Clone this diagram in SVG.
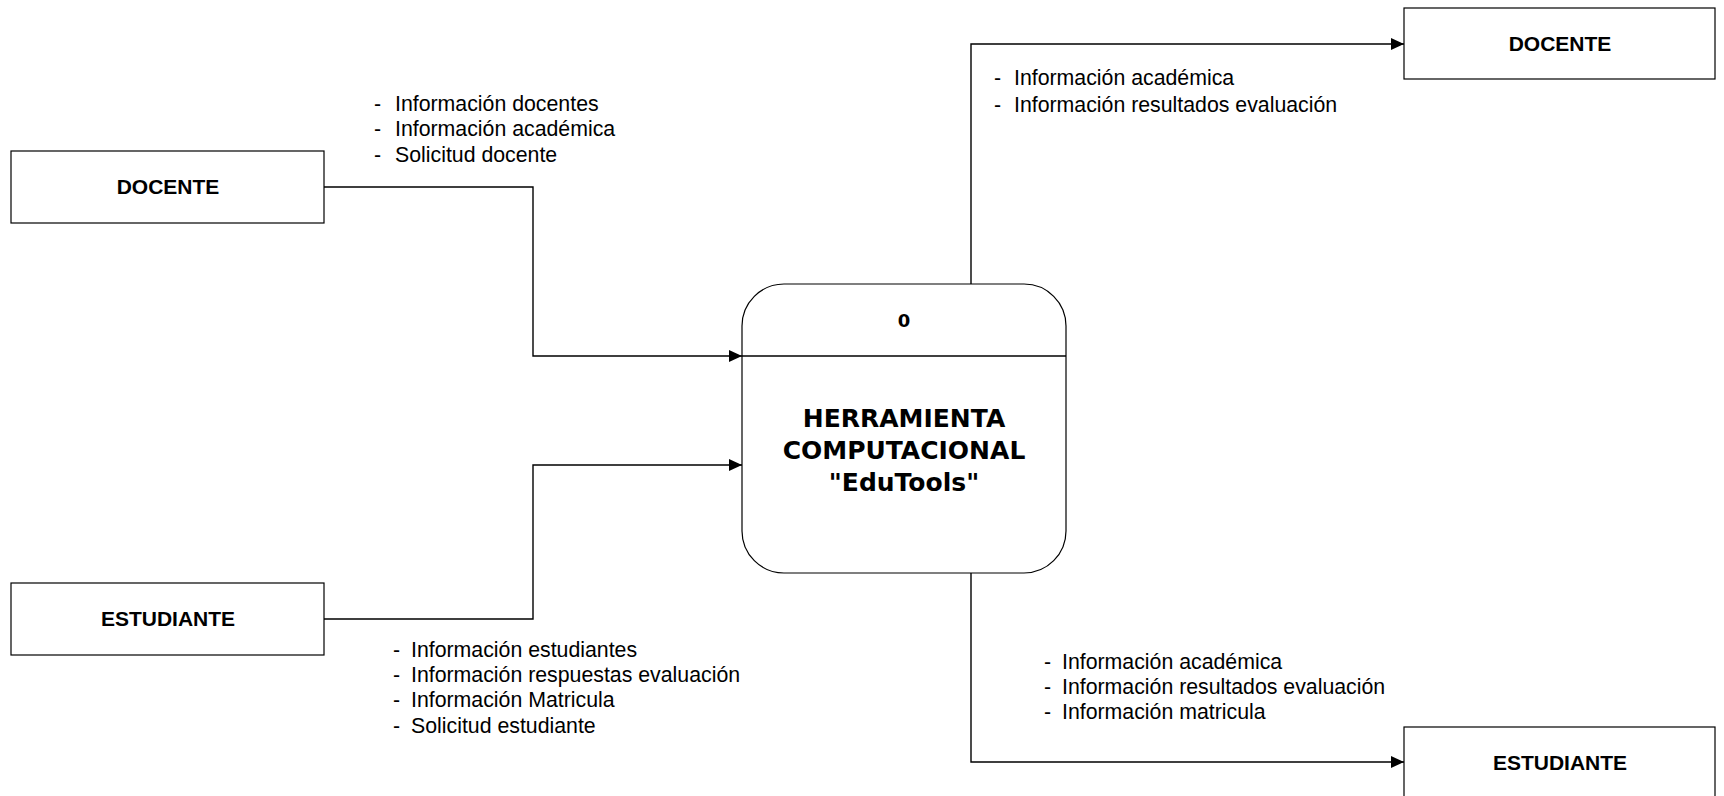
<svg xmlns="http://www.w3.org/2000/svg" width="1724" height="796" viewBox="0 0 1724 796">
<style>
.box{fill:#fff;stroke:#000;stroke-width:1.2}
.ent{font-family:"Liberation Sans",Arial,sans-serif;font-weight:bold;font-size:21px;text-anchor:middle;fill:#000}
.proc{font-family:"DejaVu Sans",Verdana,sans-serif;font-weight:bold;text-anchor:middle;fill:#000}
.lbl{font-family:"Liberation Sans",Arial,sans-serif;font-size:21.3px;fill:#000}
.flow{fill:none;stroke:#000;stroke-width:1.4}
</style>
<defs>
<marker id="arr" markerWidth="14" markerHeight="12" refX="13" refY="6" orient="auto" markerUnits="userSpaceOnUse">
<path d="M0,0 L13,6 L0,12 Z" fill="#000"/>
</marker>
</defs>
<rect width="1724" height="796" fill="#fff"/>
<g id="connectors">
<polyline class="flow" points="324,187 533,187 533,356 742,356" marker-end="url(#arr)"/>
<polyline class="flow" points="324,619 533,619 533,465 742,465" marker-end="url(#arr)"/>
<polyline class="flow" points="971,284 971,44 1404,44" marker-end="url(#arr)"/>
<polyline class="flow" points="971,573 971,762 1404,762" marker-end="url(#arr)"/>
</g>
<g id="labels">
<text class="lbl" x="374" y="111">-</text><text class="lbl" x="395" y="111">Información docentes</text>
<text class="lbl" x="374" y="136">-</text><text class="lbl" x="395" y="136">Información académica</text>
<text class="lbl" x="374" y="162">-</text><text class="lbl" x="395" y="162">Solicitud docente</text>
<text class="lbl" x="393" y="657">-</text><text class="lbl" x="411" y="657">Información estudiantes</text>
<text class="lbl" x="393" y="682">-</text><text class="lbl" x="411" y="682">Información respuestas evaluación</text>
<text class="lbl" x="393" y="707">-</text><text class="lbl" x="411" y="707">Información Matricula</text>
<text class="lbl" x="393" y="733">-</text><text class="lbl" x="411" y="733">Solicitud estudiante</text>
<text class="lbl" x="994" y="85">-</text><text class="lbl" x="1014" y="85">Información académica</text>
<text class="lbl" x="994" y="112">-</text><text class="lbl" x="1014" y="112">Información resultados evaluación</text>
<text class="lbl" x="1044" y="669">-</text><text class="lbl" x="1062" y="669">Información académica</text>
<text class="lbl" x="1044" y="694">-</text><text class="lbl" x="1062" y="694">Información resultados evaluación</text>
<text class="lbl" x="1044" y="719">-</text><text class="lbl" x="1062" y="719">Información matricula</text>
</g>
<g id="docente-left">
<rect class="box" x="11" y="151" width="313" height="72"/>
<text class="ent" x="168" y="194">DOCENTE</text>
</g>
<g id="estudiante-left">
<rect class="box" x="11" y="583" width="313" height="72"/>
<text class="ent" x="168" y="626">ESTUDIANTE</text>
</g>
<g id="proceso">
<rect class="box" x="742" y="284" width="324" height="289" rx="42" ry="42"/>
<line x1="742" y1="356" x2="1066" y2="356" stroke="#000" stroke-width="1.4"/>
<text class="proc" x="904" y="327" font-size="18">0</text>
<text class="proc" x="904" y="427" font-size="25">HERRAMIENTA</text>
<text class="proc" x="904" y="459" font-size="25">COMPUTACIONAL</text>
<text class="proc" x="904" y="491" font-size="25">"EduTools"</text>
</g>
<g id="docente-right">
<rect class="box" x="1404" y="8" width="311" height="71"/>
<text class="ent" x="1560" y="51">DOCENTE</text>
</g>
<g id="estudiante-right">
<rect class="box" x="1404" y="727" width="311" height="75"/>
<text class="ent" x="1560" y="770">ESTUDIANTE</text>
</g>
</svg>
